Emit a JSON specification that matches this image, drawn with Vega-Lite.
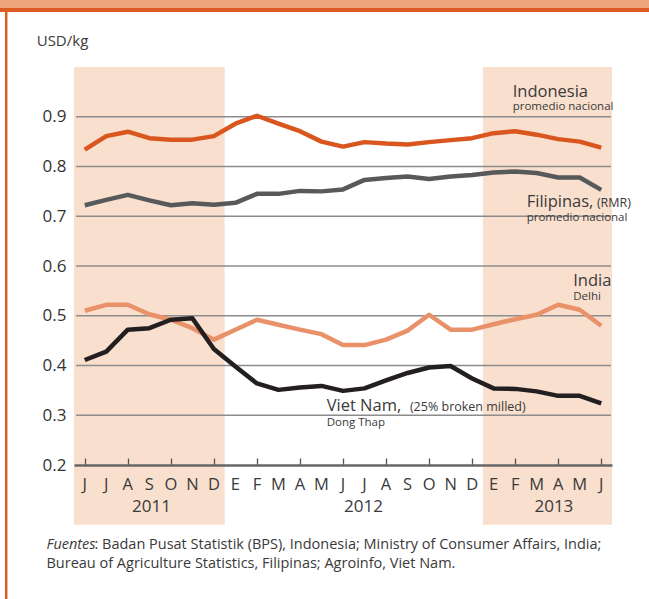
{
  "$schema": "https://vega.github.io/schema/vega-lite/v6.json",
  "width": 538,
  "height": 398,
  "autosize": {"type": "none"},
  "padding": {"left": 74, "top": 67, "right": 37, "bottom": 134},
  "background": "white",
  "config": {"view": {"stroke": null}, "font": "Open Sans", "text": {"font": "Open Sans", "color": "#3a3a3a"}},
  "datasets": {
    "prices": [
      {"s": "Indonesia", "i": 0, "v": 0.834}, {"s": "Indonesia", "i": 1, "v": 0.861}, {"s": "Indonesia", "i": 2, "v": 0.870}, {"s": "Indonesia", "i": 3, "v": 0.857}, {"s": "Indonesia", "i": 4, "v": 0.854}, {"s": "Indonesia", "i": 5, "v": 0.854}, {"s": "Indonesia", "i": 6, "v": 0.861}, {"s": "Indonesia", "i": 7, "v": 0.886}, {"s": "Indonesia", "i": 8, "v": 0.902}, {"s": "Indonesia", "i": 9, "v": 0.886}, {"s": "Indonesia", "i": 10, "v": 0.871}, {"s": "Indonesia", "i": 11, "v": 0.850}, {"s": "Indonesia", "i": 12, "v": 0.840}, {"s": "Indonesia", "i": 13, "v": 0.849}, {"s": "Indonesia", "i": 14, "v": 0.846}, {"s": "Indonesia", "i": 15, "v": 0.844}, {"s": "Indonesia", "i": 16, "v": 0.849}, {"s": "Indonesia", "i": 17, "v": 0.853}, {"s": "Indonesia", "i": 18, "v": 0.857}, {"s": "Indonesia", "i": 19, "v": 0.867}, {"s": "Indonesia", "i": 20, "v": 0.871}, {"s": "Indonesia", "i": 21, "v": 0.864}, {"s": "Indonesia", "i": 22, "v": 0.855}, {"s": "Indonesia", "i": 23, "v": 0.850}, {"s": "Indonesia", "i": 24, "v": 0.838},
      {"s": "Filipinas", "i": 0, "v": 0.722}, {"s": "Filipinas", "i": 1, "v": 0.733}, {"s": "Filipinas", "i": 2, "v": 0.743}, {"s": "Filipinas", "i": 3, "v": 0.732}, {"s": "Filipinas", "i": 4, "v": 0.722}, {"s": "Filipinas", "i": 5, "v": 0.726}, {"s": "Filipinas", "i": 6, "v": 0.723}, {"s": "Filipinas", "i": 7, "v": 0.727}, {"s": "Filipinas", "i": 8, "v": 0.745}, {"s": "Filipinas", "i": 9, "v": 0.745}, {"s": "Filipinas", "i": 10, "v": 0.751}, {"s": "Filipinas", "i": 11, "v": 0.750}, {"s": "Filipinas", "i": 12, "v": 0.754}, {"s": "Filipinas", "i": 13, "v": 0.773}, {"s": "Filipinas", "i": 14, "v": 0.777}, {"s": "Filipinas", "i": 15, "v": 0.780}, {"s": "Filipinas", "i": 16, "v": 0.775}, {"s": "Filipinas", "i": 17, "v": 0.780}, {"s": "Filipinas", "i": 18, "v": 0.783}, {"s": "Filipinas", "i": 19, "v": 0.788}, {"s": "Filipinas", "i": 20, "v": 0.790}, {"s": "Filipinas", "i": 21, "v": 0.787}, {"s": "Filipinas", "i": 22, "v": 0.778}, {"s": "Filipinas", "i": 23, "v": 0.778}, {"s": "Filipinas", "i": 24, "v": 0.753},
      {"s": "India", "i": 0, "v": 0.510}, {"s": "India", "i": 1, "v": 0.522}, {"s": "India", "i": 2, "v": 0.522}, {"s": "India", "i": 3, "v": 0.503}, {"s": "India", "i": 4, "v": 0.492}, {"s": "India", "i": 5, "v": 0.475}, {"s": "India", "i": 6, "v": 0.452}, {"s": "India", "i": 7, "v": 0.472}, {"s": "India", "i": 8, "v": 0.492}, {"s": "India", "i": 9, "v": 0.482}, {"s": "India", "i": 10, "v": 0.472}, {"s": "India", "i": 11, "v": 0.463}, {"s": "India", "i": 12, "v": 0.441}, {"s": "India", "i": 13, "v": 0.441}, {"s": "India", "i": 14, "v": 0.452}, {"s": "India", "i": 15, "v": 0.470}, {"s": "India", "i": 16, "v": 0.502}, {"s": "India", "i": 17, "v": 0.472}, {"s": "India", "i": 18, "v": 0.472}, {"s": "India", "i": 19, "v": 0.483}, {"s": "India", "i": 20, "v": 0.493}, {"s": "India", "i": 21, "v": 0.502}, {"s": "India", "i": 22, "v": 0.522}, {"s": "India", "i": 23, "v": 0.512}, {"s": "India", "i": 24, "v": 0.480},
      {"s": "Viet Nam", "i": 0, "v": 0.411}, {"s": "Viet Nam", "i": 1, "v": 0.428}, {"s": "Viet Nam", "i": 2, "v": 0.472}, {"s": "Viet Nam", "i": 3, "v": 0.475}, {"s": "Viet Nam", "i": 4, "v": 0.492}, {"s": "Viet Nam", "i": 5, "v": 0.495}, {"s": "Viet Nam", "i": 6, "v": 0.433}, {"s": "Viet Nam", "i": 7, "v": 0.398}, {"s": "Viet Nam", "i": 8, "v": 0.364}, {"s": "Viet Nam", "i": 9, "v": 0.351}, {"s": "Viet Nam", "i": 10, "v": 0.356}, {"s": "Viet Nam", "i": 11, "v": 0.359}, {"s": "Viet Nam", "i": 12, "v": 0.349}, {"s": "Viet Nam", "i": 13, "v": 0.354}, {"s": "Viet Nam", "i": 14, "v": 0.370}, {"s": "Viet Nam", "i": 15, "v": 0.385}, {"s": "Viet Nam", "i": 16, "v": 0.396}, {"s": "Viet Nam", "i": 17, "v": 0.399}, {"s": "Viet Nam", "i": 18, "v": 0.374}, {"s": "Viet Nam", "i": 19, "v": 0.354}, {"s": "Viet Nam", "i": 20, "v": 0.353}, {"s": "Viet Nam", "i": 21, "v": 0.348}, {"s": "Viet Nam", "i": 22, "v": 0.339}, {"s": "Viet Nam", "i": 23, "v": 0.339}, {"s": "Viet Nam", "i": 24, "v": 0.324}
    ],
    "months": [
      {"i": 0, "m": "J"}, {"i": 1, "m": "J"}, {"i": 2, "m": "A"}, {"i": 3, "m": "S"}, {"i": 4, "m": "O"}, {"i": 5, "m": "N"}, {"i": 6, "m": "D"},
      {"i": 7, "m": "E"}, {"i": 8, "m": "F"}, {"i": 9, "m": "M"}, {"i": 10, "m": "A"}, {"i": 11, "m": "M"}, {"i": 12, "m": "J"}, {"i": 13, "m": "J"}, {"i": 14, "m": "A"}, {"i": 15, "m": "S"}, {"i": 16, "m": "O"}, {"i": 17, "m": "N"}, {"i": 18, "m": "D"},
      {"i": 19, "m": "E"}, {"i": 20, "m": "F"}, {"i": 21, "m": "M"}, {"i": 22, "m": "A"}, {"i": 23, "m": "M"}, {"i": 24, "m": "J"}
    ],
    "shade": [{"period": "2011", "a": -0.5, "b": 6.5}, {"period": "2013", "a": 18.5, "b": 24.5}],
    "grid": [{"g": 0.3}, {"g": 0.4}, {"g": 0.5}, {"g": 0.6}, {"g": 0.7}, {"g": 0.8}, {"g": 0.9}],
    "one": [{}]
  },
  "layer": [
    {
      "data": {"name": "one"},
      "mark": {"type": "rect", "color": "#EEA57C", "clip": false},
      "encoding": {"x": {"datum": -3.94}, "x2": {"datum": 26.22}, "y": {"datum": 1.135}, "y2": {"datum": 1.1186}}
    },
    {
      "data": {"name": "one"},
      "mark": {"type": "rule", "color": "#DF5B24", "strokeWidth": 4, "clip": false},
      "encoding": {"x": {"datum": -3.94}, "x2": {"datum": 26.22}, "y": {"datum": 1.1146}}
    },
    {
      "data": {"name": "one"},
      "mark": {"type": "rule", "color": "#DF5B24", "strokeWidth": 2.5, "clip": false},
      "encoding": {"x": {"datum": -3.65}, "y": {"datum": 1.1186}, "y2": {"datum": -0.07}}
    },
    {
      "data": {"name": "shade"},
      "mark": {"type": "rect", "color": "#F9DFCE", "clip": false},
      "encoding": {"x": {"field": "a", "type": "quantitative"}, "x2": {"field": "b"}, "y": {"datum": 1.0}, "y2": {"datum": 0.08}}
    },
    {
      "data": {"name": "grid"},
      "mark": {"type": "rule", "color": "#8C8C8C", "strokeWidth": 1.3, "clip": false},
      "encoding": {"y": {"field": "g", "type": "quantitative"}, "x": {"datum": -0.4}, "x2": {"datum": 24.45}}
    },
    {
      "data": {"name": "prices"},
      "mark": {"type": "line", "strokeWidth": 4.5, "strokeJoin": "round", "clip": false},
      "encoding": {
        "x": {"field": "i", "type": "quantitative", "title": null,
          "scale": {"domain": [-0.5, 24.5], "nice": false, "zero": false},
          "axis": {"values": [0,1,2,3,4,5,6,7,8,9,10,11,12,13,14,15,16,17,18,19,20,21,22,23,24],
            "labels": false, "grid": false, "domainColor": "#666666", "domainWidth": 2.5,
            "tickColor": "#555555", "tickWidth": 1.3, "tickSize": -7, "zindex": 2}},
        "y": {"field": "v", "type": "quantitative", "title": null,
          "scale": {"domain": [0.2, 1.0], "nice": false, "zero": false},
          "axis": {"values": [0.2, 0.3, 0.4, 0.5, 0.6, 0.7, 0.8, 0.9], "format": ".1f",
            "grid": false, "domain": false, "ticks": false, "labelPadding": 8,
            "labelFontSize": 17, "labelColor": "#333333", "labelFont": "Open Sans"}},
        "color": {"field": "s", "type": "nominal",
          "scale": {"domain": ["Indonesia", "Filipinas", "India", "Viet Nam"], "range": ["#DA561F", "#58595B", "#E9926A", "#231F20"]},
          "legend": null}
      }
    },
    {"data": {"name": "months"},
     "mark": {"type": "text", "fontSize": 16.5, "align": "center", "baseline": "alphabetic", "color": "#3a3a3a", "clip": false},
     "encoding": {"x": {"field": "i", "type": "quantitative"}, "y": {"datum": 0.1497}, "text": {"field": "m"}}},
    {"data": {"name": "one"}, "mark": {"type": "text", "text": "USD/kg", "fontSize": 15, "align": "left", "baseline": "alphabetic", "clip": false},
     "encoding": {"x": {"datum": -2.233}, "y": {"datum": 1.0422}}},
    {"data": {"name": "one"}, "mark": {"type": "text", "text": "Indonesia", "fontSize": 16.5, "align": "left", "baseline": "alphabetic", "clip": false},
     "encoding": {"x": {"datum": 19.886}, "y": {"datum": 0.9397}}},
    {"data": {"name": "one"}, "mark": {"type": "text", "text": "promedio nacional", "fontSize": 11.5, "align": "left", "baseline": "alphabetic", "clip": false},
     "encoding": {"x": {"datum": 19.886}, "y": {"datum": 0.9126}}},
    {"data": {"name": "one"}, "mark": {"type": "text", "text": "Filipinas,", "fontSize": 16.5, "align": "left", "baseline": "alphabetic", "clip": false},
     "encoding": {"x": {"datum": 20.536}, "y": {"datum": 0.7192}}},
    {"data": {"name": "one"}, "mark": {"type": "text", "text": "(RMR)", "fontSize": 12.5, "align": "left", "baseline": "alphabetic", "clip": false},
     "encoding": {"x": {"datum": 23.8}, "y": {"datum": 0.7192}}},
    {"data": {"name": "one"}, "mark": {"type": "text", "text": "promedio nacional", "fontSize": 11.5, "align": "left", "baseline": "alphabetic", "clip": false},
     "encoding": {"x": {"datum": 20.536}, "y": {"datum": 0.6895}}},
    {"data": {"name": "one"}, "mark": {"type": "text", "text": "India", "fontSize": 16.5, "align": "left", "baseline": "alphabetic", "clip": false},
     "encoding": {"x": {"datum": 22.7}, "y": {"datum": 0.5598}}},
    {"data": {"name": "one"}, "mark": {"type": "text", "text": "Delhi", "fontSize": 11.5, "align": "left", "baseline": "alphabetic", "clip": false},
     "encoding": {"x": {"datum": 22.7}, "y": {"datum": 0.5307}}},
    {"data": {"name": "one"}, "mark": {"type": "text", "text": "Viet Nam,", "fontSize": 16.5, "align": "left", "baseline": "alphabetic", "clip": false},
     "encoding": {"x": {"datum": 11.24}, "y": {"datum": 0.3091}}},
    {"data": {"name": "one"}, "mark": {"type": "text", "text": "(25% broken milled)", "fontSize": 12.5, "align": "left", "baseline": "alphabetic", "clip": false},
     "encoding": {"x": {"datum": 15.11}, "y": {"datum": 0.3091}}},
    {"data": {"name": "one"}, "mark": {"type": "text", "text": "Dong Thap", "fontSize": 11.5, "align": "left", "baseline": "alphabetic", "clip": false},
     "encoding": {"x": {"datum": 11.24}, "y": {"datum": 0.2774}}},
    {"data": {"name": "one"}, "mark": {"type": "text", "text": "2011", "fontSize": 17, "align": "center", "baseline": "alphabetic", "clip": false},
     "encoding": {"x": {"datum": 3.1}, "y": {"datum": 0.1061}}},
    {"data": {"name": "one"}, "mark": {"type": "text", "text": "2012", "fontSize": 17, "align": "center", "baseline": "alphabetic", "clip": false},
     "encoding": {"x": {"datum": 12.95}, "y": {"datum": 0.1061}}},
    {"data": {"name": "one"}, "mark": {"type": "text", "text": "2013", "fontSize": 17, "align": "center", "baseline": "alphabetic", "clip": false},
     "encoding": {"x": {"datum": 21.8}, "y": {"datum": 0.1061}}},
    {"data": {"name": "one"}, "mark": {"type": "text", "text": "Fuentes", "fontStyle": "italic", "fontSize": 14.5, "align": "left", "baseline": "alphabetic", "clip": false},
     "encoding": {"x": {"datum": -1.78}, "y": {"datum": 0.0312}}},
    {"data": {"name": "one"}, "mark": {"type": "text", "text": ": Badan Pusat Statistik (BPS), Indonesia; Ministry of Consumer Affairs, India;", "fontSize": 14.5, "align": "left", "baseline": "alphabetic", "dx": 48, "clip": false},
     "encoding": {"x": {"datum": -1.78}, "y": {"datum": 0.0312}}},
    {"data": {"name": "one"}, "mark": {"type": "text", "text": "Bureau of Agriculture Statistics, Filipinas; Agroinfo, Viet Nam.", "fontSize": 14.5, "align": "left", "baseline": "alphabetic", "clip": false},
     "encoding": {"x": {"datum": -1.78}, "y": {"datum": -0.0064}}}
  ]
}
